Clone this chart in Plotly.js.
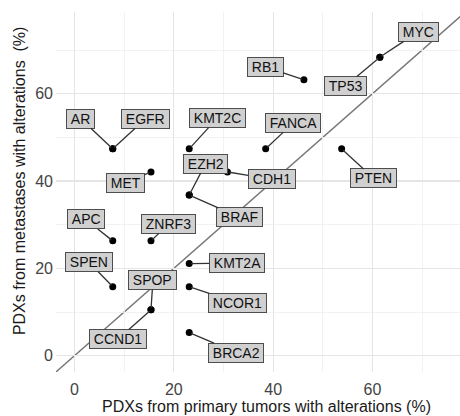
<!DOCTYPE html>
<html>
<head>
<meta charset="utf-8">
<script src="https://cdn.plot.ly/plotly-3.0.1.min.js"></script>
<style>
  html, body { margin: 0; padding: 0; background: #ffffff; }
  #chart { width: 460px; height: 416px; }
</style>
</head>
<body>
<div id="chart"></div>
<script>
// Share of PDX models carrying an alteration in each gene (%)
const genes = ['MYC', 'TP53', 'RB1', 'FANCA', 'PTEN', 'CDH1', 'AR', 'EGFR', 'KMT2C', 'MET',
               'EZH2', 'BRAF', 'APC', 'ZNRF3', 'SPEN', 'KMT2A', 'NCOR1', 'SPOP', 'CCND1', 'BRCA2'];
const primaryPct = [61.5, 61.5, 46.2, 38.5, 53.8, 30.8, 7.7, 7.7, 23.1, 15.4,
                    23.1, 23.1, 7.7, 15.4, 7.7, 23.1, 23.1, 15.4, 15.4, 23.1];
const metastasisPct = [68.4, 68.4, 63.2, 47.4, 47.4, 42.1, 47.4, 47.4, 47.4, 42.1,
                       36.8, 36.8, 26.3, 26.3, 15.8, 21.1, 15.8, 10.5, 10.5, 5.3];

const xTicks = [0, 20, 40, 60];
const yTicks = [0, 20, 40, 60];

// Where each gene label sits (axis units), kept apart from the values
const labelPlacement = {
  MYC: [69.2, 74.2], TP53: [54.6, 61.8], RB1: [38.4, 66.2], FANCA: [44.1, 53.4],
  PTEN: [60.3, 40.6], CDH1: [39.7, 40.4], AR: [1.25, 54.3], EGFR: [14.3, 54.3],
  KMT2C: [28.8, 54.5], MET: [10.2, 39.5], EZH2: [26.4, 44.0], BRAF: [33.3, 31.7],
  APC: [2.26, 31.2], ZNRF3: [19.0, 30.2], SPEN: [2.9, 21.4], KMT2A: [32.7, 21.2],
  NCOR1: [32.9, 12.1], SPOP: [15.8, 17.4], CCND1: [8.8, 3.8], BRCA2: [32.6, 0.7]
};

const FONT = '"Liberation Sans", Arial, Helvetica, sans-serif';
const xRange = [-3.73, 77.64];
const yRange = [-3.75, 78.75];
const PAD = '\u2009';   // thin space gives the label boxes some side padding

const points = {
  type: 'scatter',
  mode: 'markers',
  x: primaryPct,
  y: metastasisPct,
  text: genes,
  marker: { color: '#000000', size: 7 },
  hoverinfo: 'text+x+y',
  showlegend: false,
  cliponaxis: false
};

const geneLabels = genes.map((g, i) => ({
  x: primaryPct[i], y: metastasisPct[i], xref: 'x', yref: 'y',
  ax: labelPlacement[g][0], ay: labelPlacement[g][1], axref: 'x', ayref: 'y',
  text: PAD + g + PAD,
  showarrow: true, arrowhead: 0, arrowwidth: 1.3, arrowcolor: '#333333', standoff: 2,
  bgcolor: '#d0d0d0', bordercolor: '#4d4d4d', borderwidth: 1, borderpad: 1,
  font: { family: FONT, size: 14, color: '#111111' }
}));

const axisTitles = [
  { text: 'PDXs from primary tumors with alterations (%)', xref: 'paper', yref: 'paper',
    x: 0.52, y: -0.095, xanchor: 'center', yanchor: 'middle', showarrow: false,
    font: { family: FONT, size: 16, color: '#1a1a1a' } },
  { text: 'PDXs from metastases with alterations\u00a0 (%)', xref: 'paper', yref: 'paper',
    x: -0.09, y: 0.532, xanchor: 'center', yanchor: 'middle', textangle: -90, showarrow: false,
    font: { family: FONT, size: 16, color: '#1a1a1a' } }
];

const layout = {
  width: 460, height: 416,
  margin: { l: 56, r: 0, t: 12, b: 44 },
  paper_bgcolor: '#ffffff', plot_bgcolor: '#ffffff',
  showlegend: false,
  xaxis: {
    range: xRange, tickvals: xTicks, ticktext: xTicks.map(String),
    showgrid: true, gridcolor: '#e5e5e5', gridwidth: 1.2, zeroline: false, showline: false,
    ticks: '', ticklabelstandoff: 6,
    tickfont: { family: FONT, size: 16, color: '#444444' },
    minor: { tickvals: [10, 30, 50, 70], showgrid: true, gridcolor: '#efefef', gridwidth: 0.8 }
  },
  yaxis: {
    range: yRange, tickvals: yTicks, ticktext: yTicks.map(String),
    showgrid: true, gridcolor: '#e5e5e5', gridwidth: 1.2, zeroline: false, showline: false,
    ticks: '', ticklabelstandoff: 2,
    tickfont: { family: FONT, size: 16, color: '#444444' },
    minor: { tickvals: [10, 30, 50, 70], showgrid: true, gridcolor: '#efefef', gridwidth: 0.8 }
  },
  // identity line: equal share in primary tumours and metastases
  shapes: [{
    type: 'line', xref: 'x', yref: 'y', layer: 'below',
    x0: xRange[0] - 5, y0: xRange[0] - 5, x1: yRange[1] + 5, y1: yRange[1] + 5,
    line: { color: '#777777', width: 1.5 }
  }],
  annotations: geneLabels.concat(axisTitles)
};

Plotly.newPlot('chart', [points], layout, { displayModeBar: false, staticPlot: true });
</script>
</body>
</html>
